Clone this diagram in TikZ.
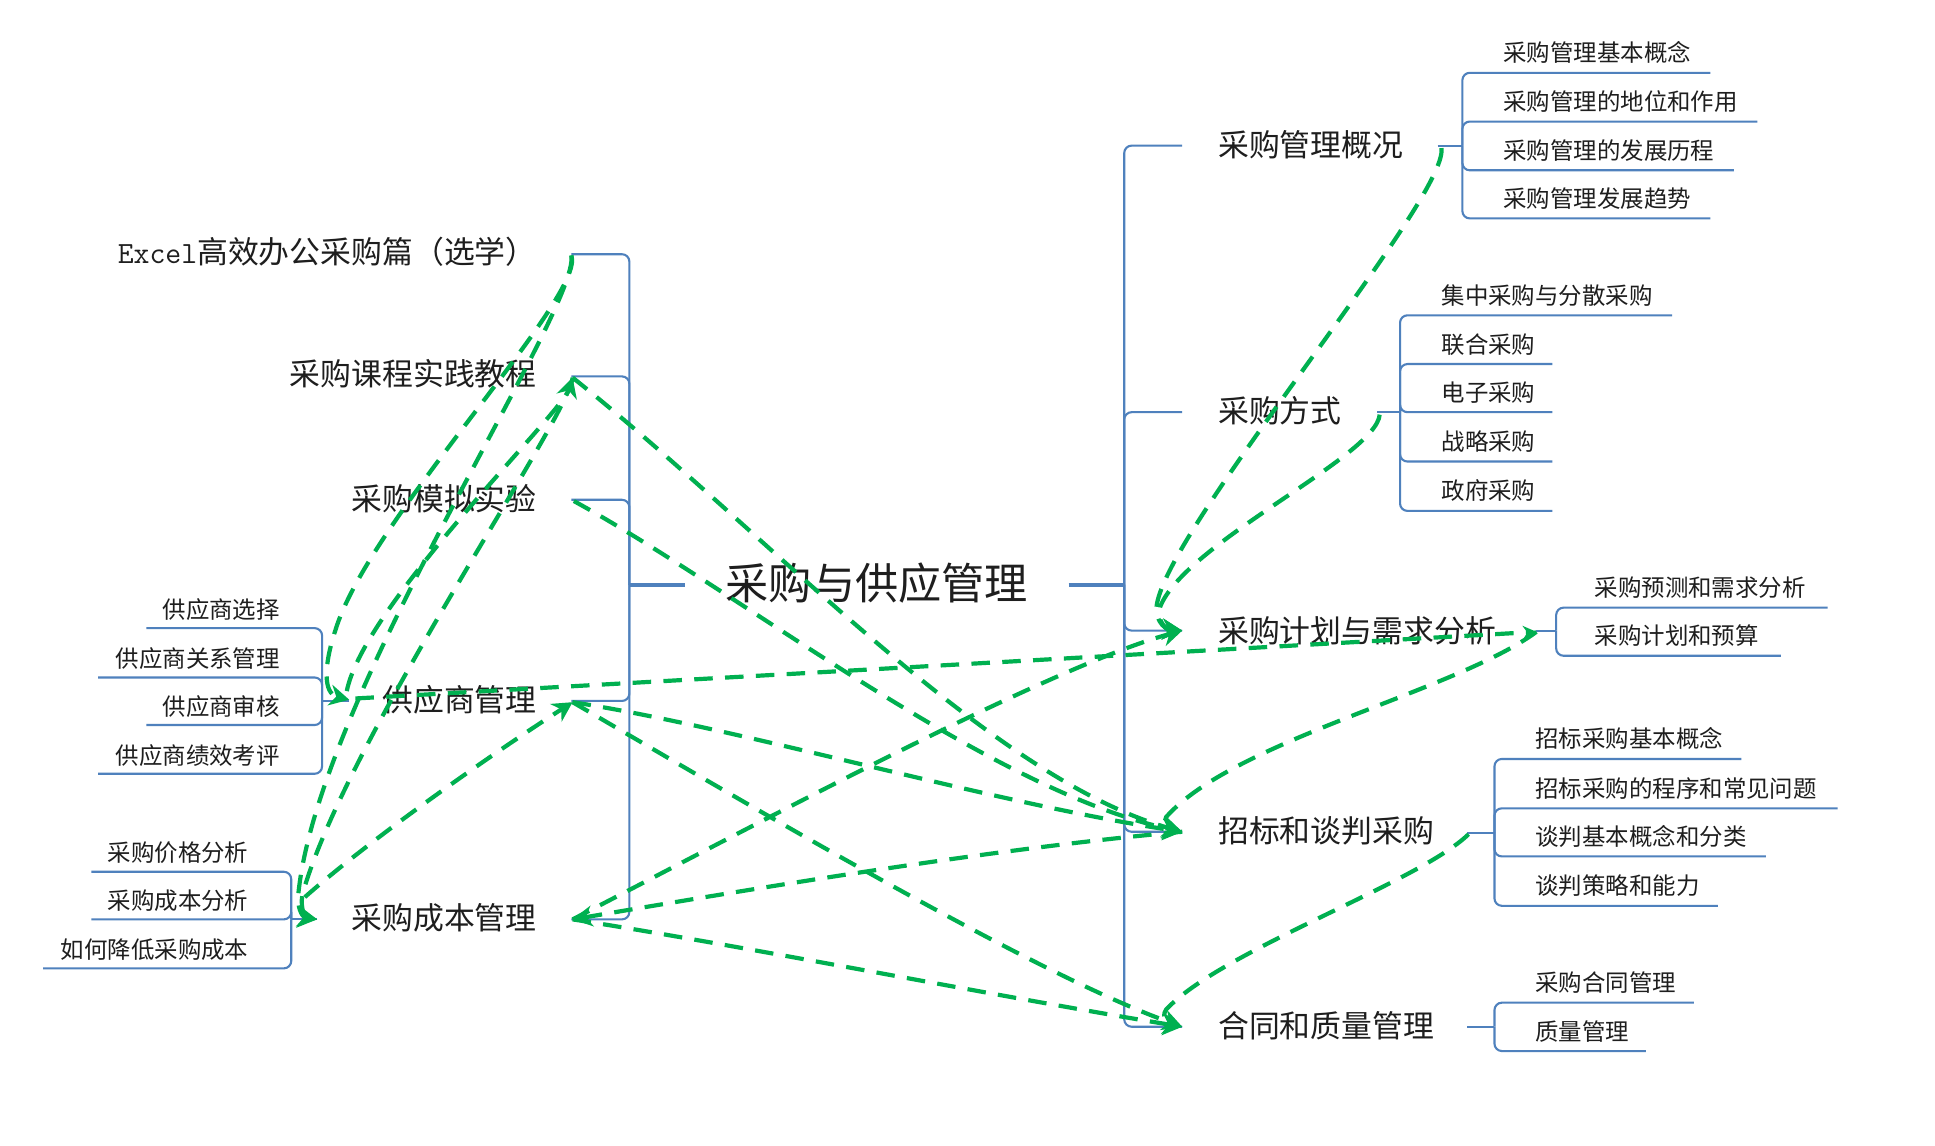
\documentclass[tikz,border=0pt]{standalone}
\usepackage{fontspec}
\setmainfont{Noto Sans CJK SC}
\usetikzlibrary{arrows.meta}
\definecolor{brblue}{RGB}{79,129,189}
\definecolor{relgreen}{RGB}{0,176,80}
\definecolor{txt}{RGB}{30,30,30}
\newcommand{\RSub}[6]{%
  \node[subtopic, anchor=west] (#1) at (#3, #4-17) {#2};
  \coordinate (#1u) at (#5, #4);
  \draw[br] (#6) |- (#1u);
}
\newcommand{\LSub}[6]{%
  \node[subtopic, anchor=east] (#1) at (#3, #4-16) {#2};
  \coordinate (#1u) at (#5, #4);
  \draw[br] (#6) |- (#1u);
}
\begin{document}
\begin{tikzpicture}[x=1pt,y=-1pt,
  roottopic/.style={font=\fontsize{35}{40}\selectfont, text=txt, inner sep=0pt, text height=0.8em, text depth=0.08em, yshift=-9pt},
  maintopic/.style={font=\fontsize{25}{30}\selectfont, text=txt, inner sep=0pt, text height=0.8em, text depth=0.08em, yshift=-6pt},
  subtopic/.style={font=\fontsize{19}{23}\selectfont, text=txt, inner sep=0pt, text height=0.8em, text depth=0.08em, yshift=-4.5pt},
  trunk/.style={draw=brblue, line width=2.8pt},
  br/.style={draw=brblue, line width=1.7pt, rounded corners=6pt},
  rel/.style={draw=relgreen, line width=3.4pt, dash pattern=on 15pt off 10pt},
  tip/.style={-{Stealth[length=16pt,width=17pt]}},
  smalltip/.style={-{Stealth[length=11pt,width=11pt]}}
]
\fill[white] (0,0) rectangle (1568,928);
\useasboundingbox (0,0) rectangle (1568,928);

% ---------- root ----------
\node[roottopic] (root) at (710.5,473) {采购与供应管理};
\coordinate (rootL) at (555,474);
\coordinate (rootR) at (866,474);
\coordinate (LJ) at (510,474);
\coordinate (RJ) at (911,474);
\draw[trunk] (rootL) -- (LJ);
\draw[trunk] (rootR) -- (RJ);

% ---------- left main topics ----------
\node[maintopic, anchor=east] (m1) at (435,204) {{\ttfamily Excel}高效办公采购篇（选学）};
\node[maintopic, anchor=east] (m2) at (435,303) {采购课程实践教程};
\node[maintopic, anchor=east] (m3) at (435,404) {采购模拟实验};
\node[maintopic, anchor=east] (m4) at (435,567) {供应商管理};
\node[maintopic, anchor=east] (m5) at (435,744) {采购成本管理};
\coordinate (m1c) at (463,206);
\coordinate (m2c) at (463,305);
\coordinate (m3c) at (463,405);
\coordinate (m4c) at (463,568);
\coordinate (m5c) at (463,745);
\foreach \c in {m1c,m2c,m3c,m4c,m5c} \draw[br] (LJ) |- (\c);

% ---------- right main topics ----------
\node[maintopic, anchor=west] (r1) at (987,117) {采购管理概况};
\node[maintopic, anchor=west] (r2) at (987,333) {采购方式};
\node[maintopic, anchor=west] (r3) at (987,511) {采购计划与需求分析};
\node[maintopic, anchor=west] (r4) at (987,673) {招标和谈判采购};
\node[maintopic, anchor=west] (r5) at (987,831) {合同和质量管理};
\coordinate (r1c) at (958,118);
\coordinate (r2c) at (958,334);
\coordinate (r3c) at (958,511);
\coordinate (r4c) at (958,674);
\coordinate (r5c) at (958,832);
\foreach \c in {r1c,r2c,r3c,r4c,r5c} \draw[br] (RJ) |- (\c);

% ---------- right subgroups ----------
\coordinate (g1s) at (1165,118);   \coordinate (g1b) at (1185,118);
\draw[br] (g1s) -- (g1b);
\RSub{a1}{采购管理基本概念}{1218}{59}{1386}{g1b}
\RSub{a2}{采购管理的地位和作用}{1218}{98.5}{1424}{g1b}
\RSub{a3}{采购管理的发展历程}{1218}{138}{1405}{g1b}
\RSub{a4}{采购管理发展趋势}{1218}{177}{1386}{g1b}

\coordinate (g2s) at (1116,334);   \coordinate (g2b) at (1134.5,334);
\draw[br] (g2s) -- (g2b);
\RSub{b1}{集中采购与分散采购}{1168}{255.5}{1355}{g2b}
\RSub{b2}{联合采购}{1168}{295}{1258}{g2b}
\RSub{b3}{电子采购}{1168}{334}{1258}{g2b}
\RSub{b4}{战略采购}{1168}{374}{1258}{g2b}
\RSub{b5}{政府采购}{1168}{414}{1258}{g2b}

\coordinate (g3s) at (1245,511);   \coordinate (g3b) at (1261,511);
\draw[br] (g3s) -- (g3b);
\RSub{c1}{采购预测和需求分析}{1292}{492.4}{1481}{g3b}
\RSub{c2}{采购计划和预算}{1292}{531.4}{1443}{g3b}

\coordinate (g4s) at (1189,675);   \coordinate (g4b) at (1211,675);
\draw[br] (g4s) -- (g4b);
\RSub{d1}{招标采购基本概念}{1244}{615}{1411}{g4b}
\RSub{d2}{招标采购的程序和常见问题}{1244}{655}{1489}{g4b}
\RSub{d3}{谈判基本概念和分类}{1244}{694}{1431}{g4b}
\RSub{d4}{谈判策略和能力}{1244}{734}{1392}{g4b}

\coordinate (g5s) at (1189,832);   \coordinate (g5b) at (1211,832);
\draw[br] (g5s) -- (g5b);
\RSub{e1}{采购合同管理}{1244}{812.5}{1372.5}{g5b}
\RSub{e2}{质量管理}{1244}{851.7}{1333.7}{g5b}

% ---------- left subgroups ----------
\coordinate (l1s) at (283,568);   \coordinate (l1b) at (261,568);
\draw[br] (l1s) -- (l1b);
\LSub{f1}{供应商选择}{227}{509}{118.7}{l1b}
\LSub{f2}{供应商关系管理}{227}{549}{79.6}{l1b}
\LSub{f3}{供应商审核}{227}{587.5}{118.7}{l1b}
\LSub{f4}{供应商绩效考评}{227}{627}{79.6}{l1b}

\coordinate (l2s) at (257,745);   \coordinate (l2b) at (236,745);
\draw[br] (l2s) -- (l2b);
\LSub{h1}{采购价格分析}{201.5}{706.4}{74}{l2b}
\LSub{h2}{采购成本分析}{201.5}{745}{74}{l2b}
\LSub{h3}{如何降低采购成本}{201.5}{784.7}{35}{l2b}

% ---------- relationship anchors ----------
\coordinate (Ex) at (463,207);
\coordinate (Kc) at (464,306);
\coordinate (Mn) at (465,406);
\coordinate (Gr) at (464,569);
\coordinate (Gl) at (283,567);
\coordinate (Gs) at (288,566);
\coordinate (Gt) at (281,560);
\coordinate (Cr) at (464,745);
\coordinate (Cl) at (257,745);
\coordinate (Cs) at (247,727);
\coordinate (P1) at (1168,120);
\coordinate (P2) at (1118,336);
\coordinate (Jl) at (958,511);
\coordinate (Jr) at (1245,512);
\coordinate (Zl) at (958,674);
\coordinate (Zr) at (1190,676);
\coordinate (Hl) at (958,832);

% ---------- relationships ----------
\draw[rel,tip] (P1) .. controls (1175,160) and (935,440) .. (937,495) .. controls (938,505) and (945,510) .. (Jl);
\draw[rel,tip] (P2) .. controls (1115,370) and (960,440) .. (940,492) .. controls (937,503) and (945,510) .. (Jl);
\draw[rel,smalltip] (Gs) -- (Jr);
\draw[rel,tip] (Jr) .. controls (1180,560) and (1000,600) .. (945,662) .. controls (942,668) and (948,673) .. (Zl);
\draw[rel,tip] (Zr) .. controls (1150,715) and (990,770) .. (945,818) .. controls (940,825) and (948,831) .. (Hl);
\draw[rel,tip] (Kc) .. controls (620,430) and (800,630) .. (Zl);
\draw[rel,tip] (Mn) .. controls (600,480) and (800,640) .. (Zl);
\draw[rel,tip] (Gr) .. controls (600,590) and (800,650) .. (Zl);
\draw[rel,tip] (Gr) .. controls (620,660) and (840,790) .. (Hl);
\draw[rel,tip] (Zl) .. controls (800,688) and (600,722) .. (Cr);
\draw[rel,tip] (Cr) .. controls (600,766) and (800,806) .. (Hl);
\draw[rel,tip] (Cr) .. controls (600,675) and (850,540) .. (Jl);
\draw[rel,tip] (Cs) .. controls (300,680) and (400,610) .. (Gr);
\draw[rel,tip] (Ex) .. controls (475,240) and (300,420) .. (272,510) .. controls (262,540) and (262,562) .. (Gl);
\draw[rel,tip] (Ex) .. controls (470,250) and (260,560) .. (242,722) .. controls (240,735) and (245,743) .. (Cl);
\draw[rel,tip] (Kc) .. controls (460,340) and (280,600) .. (245,725) .. controls (243,737) and (248,744) .. (Cl);
\draw[rel,tip] (Gt) .. controls (295,490) and (455,335) .. (Kc);
\end{tikzpicture}
\end{document}
